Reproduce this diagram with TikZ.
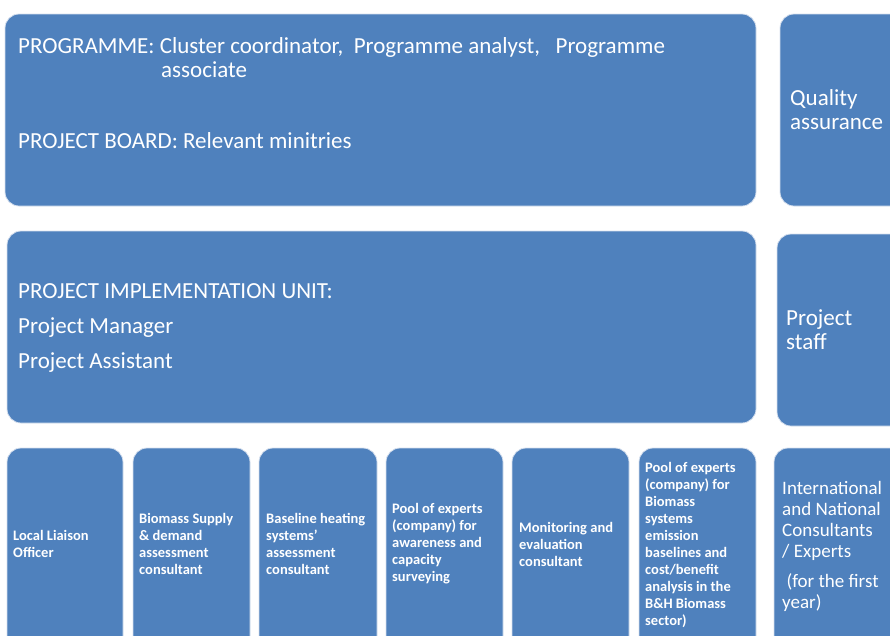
\documentclass[tikz,border=0pt]{standalone}
\usepackage{fontspec}
\setmainfont{Carlito}
\definecolor{boxblue}{HTML}{4F81BD}
\definecolor{boxedge}{HTML}{D6E0EE}
\tikzset{
  bluebox/.style={draw=boxedge, line width=0.8pt, fill=boxblue, rounded corners=14pt},
  bigtxt/.style={text=white, font=\fontsize{23}{24}\selectfont, anchor=base west, inner sep=0pt},
  sidetxt/.style={text=white, font=\fontsize{23}{24}\selectfont, anchor=west, align=left, inner sep=0pt},
  smalltxt/.style={text=white, font=\bfseries\fontsize{14.5}{17}\selectfont, anchor=west, align=left, inner sep=0pt},
  midtxt/.style={text=white, font=\fontsize{19}{21}\selectfont, anchor=west, align=left, inner sep=0pt}
}
\begin{document}
\begin{tikzpicture}[x=1pt,y=-1pt]
\useasboundingbox (0,0) rectangle (890,635);
\clip (0,0) rectangle (890,635);
% top row
\path[bluebox] (5,14) rectangle (756,206);
\node[bigtxt] (prog) at (18,53) {PROGRAMME: Cluster coordinator,~ Programme analyst,~~ Programme};
\node[bigtxt] (assoc) at (161,77) {associate};
\node[bigtxt] (board) at (18,148) {PROJECT BOARD: Relevant minitries};
\path[bluebox] (780,14) rectangle (910,206);
\node[sidetxt] (qa) at (790,110) {Quality\\assurance};
% middle row
\path[bluebox] (7,231) rectangle (756,423);
\node[bigtxt] (piu) at (18,298) {PROJECT IMPLEMENTATION UNIT:};
\node[bigtxt] (pm) at (18,333) {Project Manager};
\node[bigtxt] (pa) at (18,368) {Project Assistant};
\path[bluebox] (777,234) rectangle (910,426);
\node[sidetxt] (staff) at (786,330) {Project\\staff};
% bottom row
\path[bluebox] (7,448) rectangle (123,660);
\path[bluebox] (133,448) rectangle (250,660);
\path[bluebox] (259,448) rectangle (377,660);
\path[bluebox] (386,448) rectangle (503,660);
\path[bluebox] (512,448) rectangle (629,660);
\path[bluebox] (639,448) rectangle (756,660);
\path[bluebox] (774,448) rectangle (910,660);
\node[smalltxt] (b1) at (13,544) {Local Liaison\\Officer};
\node[smalltxt] (b2) at (139,544) {Biomass Supply\\\& demand\\assessment\\consultant};
\node[smalltxt] (b3) at (266,544) {Baseline heating\\systems’\\assessment\\consultant};
\node[smalltxt] (b4) at (392,544) {Pool of experts\\(company) for\\awareness and\\capacity\\surveying};
\node[smalltxt] (b5) at (519,544) {Monitoring and\\evaluation\\consultant};
\node[smalltxt] (b6) at (645,545) {Pool of experts\\(company) for\\Biomass\\systems\\emission\\baselines and\\cost/benefit\\analysis in the\\B\&H Biomass\\sector)};
\node[midtxt] (b7) at (782,546) {International\\and National\\Consultants\\/ Experts\\[9pt] ~(for the first\\year)};
\end{tikzpicture}
\end{document}
